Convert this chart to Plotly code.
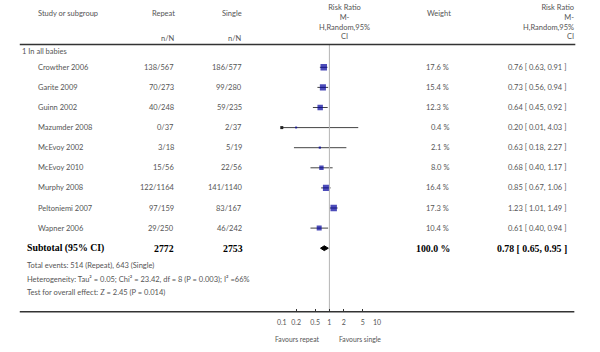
import math
import plotly.graph_objects as go

# ---------------- data ----------------
studies = ["Crowther 2006", "Garite 2009", "Guinn 2002", "Mazumder 2008", "McEvoy 2002",
           "McEvoy 2010", "Murphy 2008", "Peltoniemi 2007", "Wapner 2006"]
repeat_events = [138, 70, 40, 0, 3, 15, 122, 97, 29]
repeat_total = [567, 273, 248, 37, 18, 56, 1164, 159, 250]
single_events = [186, 99, 59, 2, 5, 22, 141, 83, 46]
single_total = [577, 280, 235, 37, 19, 56, 1140, 167, 242]
weights = [17.6, 15.4, 12.3, 0.4, 2.1, 8.0, 16.4, 17.3, 10.4]
rr = [0.76, 0.73, 0.64, 0.20, 0.63, 0.68, 0.85, 1.23, 0.61]
rr_lo = [0.63, 0.56, 0.45, 0.01, 0.18, 0.40, 0.67, 1.01, 0.40]
rr_hi = [0.91, 0.94, 0.92, 4.03, 2.27, 1.17, 1.06, 1.49, 0.94]

subtotal_label = "Subtotal (95% CI)"
subtotal_repeat = 2772
subtotal_single = 2753
subtotal_weight = 100.0
subtotal_rr, subtotal_lo, subtotal_hi = 0.78, 0.65, 0.95

footer_lines = [
    "Total events: 514 (Repeat), 643 (Single)",
    "Heterogeneity: Tau² = 0.05; Chi² = 23.42, df = 8 (P = 0.003); I² =66%",
    "Test for overall effect: Z = 2.45 (P = 0.014)",
]
subgroup_label = "1 In all babies"
effect_header = "Risk Ratio<br>M-<br>H,Random,95%<br>CI"
tick_vals = [0.1, 0.2, 0.5, 1, 2, 5, 10]
tick_text = ["0.1", "0.2", "0.5", "1", "2", "5", "10"]

# ---------------- layout constants (pixels) ----------------
W, H = 600, 352
ROW0, STEP = 67.3, 20.1          # pixel y of first study row, row spacing
GRAY = "#555555"
FONT = "Lato"
FS = 7.5
SERIF = "Liberation Serif"
BFS = 9.8


def px_y(p):   # pixel y -> paper y
    return 1 - p / H


def px_x(p):
    return p / W


def row_of_px(p):
    return (p - ROW0) / STEP


fig = go.Figure()
n = len(studies)
rows = list(range(n))

# CI lines
cx, cy = [], []
for i in rows:
    cx += [rr_lo[i], rr_hi[i], None]
    cy += [i, i, None]
fig.add_trace(go.Scatter(x=cx, y=cy, mode="lines", line=dict(color="#444444", width=1),
                         hoverinfo="skip", showlegend=False))

# marks for CIs clipped at the axis edge
arr_x = [tick_vals[0] for i in rows if rr_lo[i] < tick_vals[0]]
arr_y = [i for i in rows if rr_lo[i] < tick_vals[0]]
fig.add_trace(go.Scatter(x=arr_x, y=arr_y, mode="markers", cliponaxis=False,
                         marker=dict(symbol="square", size=3, color="#222222"),
                         hoverinfo="skip", showlegend=False))

# squares
sizes = [max(2, 1.55 * math.sqrt(w)) for w in weights]
fig.add_trace(go.Scatter(x=rr, y=rows, mode="markers",
                         marker=dict(symbol="square", size=sizes, color="#00009C", line=dict(width=0)),
                         hoverinfo="skip", showlegend=False))

# diamond
dh = 0.12
fig.add_trace(go.Scatter(x=[subtotal_lo, subtotal_rr, subtotal_hi, subtotal_rr, subtotal_lo],
                         y=[n, n - dh, n, n + dh, n], mode="lines", fill="toself",
                         fillcolor="black", line=dict(color="black", width=1),
                         hoverinfo="skip", showlegend=False))

# line of no effect
fig.add_trace(go.Scatter(x=[1, 1], y=[row_of_px(44.8), row_of_px(311.5)], mode="lines",
                         line=dict(color="#b5b5b5", width=1), hoverinfo="skip", showlegend=False))

ann = []


def txt(x, y, s, anchor="left", color=GRAY, size=FS, family=FONT, yref="paper", align="left",
        yanchor="middle"):
    ann.append(dict(x=px_x(x), y=y, xref="paper", yref=yref, text=s, showarrow=False,
                    xanchor=anchor, yanchor=yanchor, align=align,
                    font=dict(family=family, size=size, color=color)))


# headers
txt(31, px_y(13.3), "Study or subgroup")
txt(175, px_y(13.3), "Repeat", "right")
txt(243, px_y(13.3), "Single", "right")
txt(175, px_y(38.7), "n/N", "right")
txt(243, px_y(38.7), "n/N", "right")
txt(345, px_y(43), effect_header, "center", align="center", yanchor="bottom")
txt(441, px_y(13.3), "Weight", "center")
txt(580, px_y(43), effect_header, "right", align="right", yanchor="bottom")

txt(15, px_y(52), subgroup_label)

for i in rows:
    txt(31, i, studies[i], yref="y")
    txt(174, i, f"{repeat_events[i]}/{repeat_total[i]}", "right", yref="y")
    txt(243, i, f"{single_events[i]}/{single_total[i]}", "right", yref="y")
    txt(453, i, f"{weights[i]:.1f} %", "right", yref="y")
    txt(572, i, f"{rr[i]:.2f} [ {rr_lo[i]:.2f}, {rr_hi[i]:.2f} ]", "right", yref="y")

txt(20, n, f"<b>{subtotal_label}</b>", color="black", size=BFS, family=SERIF, yref="y")
txt(174, n, f"<b>{subtotal_repeat}</b>", "right", color="black", size=BFS, family=SERIF, yref="y")
txt(244, n, f"<b>{subtotal_single}</b>", "right", color="black", size=BFS, family=SERIF, yref="y")
txt(454, n, f"<b>{subtotal_weight:.1f} %</b>", "right", color="black", size=BFS, family=SERIF, yref="y")
txt(573, n, f"<b>{subtotal_rr:.2f} [ {subtotal_lo:.2f}, {subtotal_hi:.2f} ]</b>", "right",
    color="black", size=BFS, family=SERIF, yref="y")

for k, s in enumerate(footer_lines):
    txt(20, px_y(265.7 + 13.5 * k), s)

txt(322, px_y(338.5), "Favours repeat", "right", size=6.8)
txt(337, px_y(338.5), "Favours single", "left", size=6.8)

shapes = [
    dict(type="line", xref="paper", yref="paper", x0=px_x(15), x1=px_x(579),
         y0=px_y(44.5), y1=px_y(44.5), line=dict(color="#333333", width=1.5)),
    dict(type="line", xref="paper", yref="paper", x0=px_x(15), x1=px_x(578),
         y0=px_y(311.7), y1=px_y(311.7), line=dict(color="#333333", width=1.5)),
]

fig.update_layout(
    width=W, height=H, margin=dict(l=0, r=0, t=0, b=0),
    plot_bgcolor="white", paper_bgcolor="white",
    annotations=ann, shapes=shapes, showlegend=False,
    xaxis=dict(type="log", range=[-1, 1], domain=[px_x(281), px_x(377.7)],
               anchor="free", position=px_y(311.7),
               showgrid=False, zeroline=False, showline=False,
               ticks="inside", ticklen=3, tickcolor="#333333", tickwidth=1,
               tickvals=tick_vals, ticktext=tick_text, ticklabelstandoff=5,
               tickfont=dict(family=FONT, size=7, color=GRAY)),
    yaxis=dict(range=[row_of_px(H), row_of_px(0)], domain=[0, 1], visible=False,
               showgrid=False, zeroline=False),
)

fig.write_html("out.html", config={"displayModeBar": False},
               post_script="document.body.style.margin='0';document.body.style.padding='0';")
